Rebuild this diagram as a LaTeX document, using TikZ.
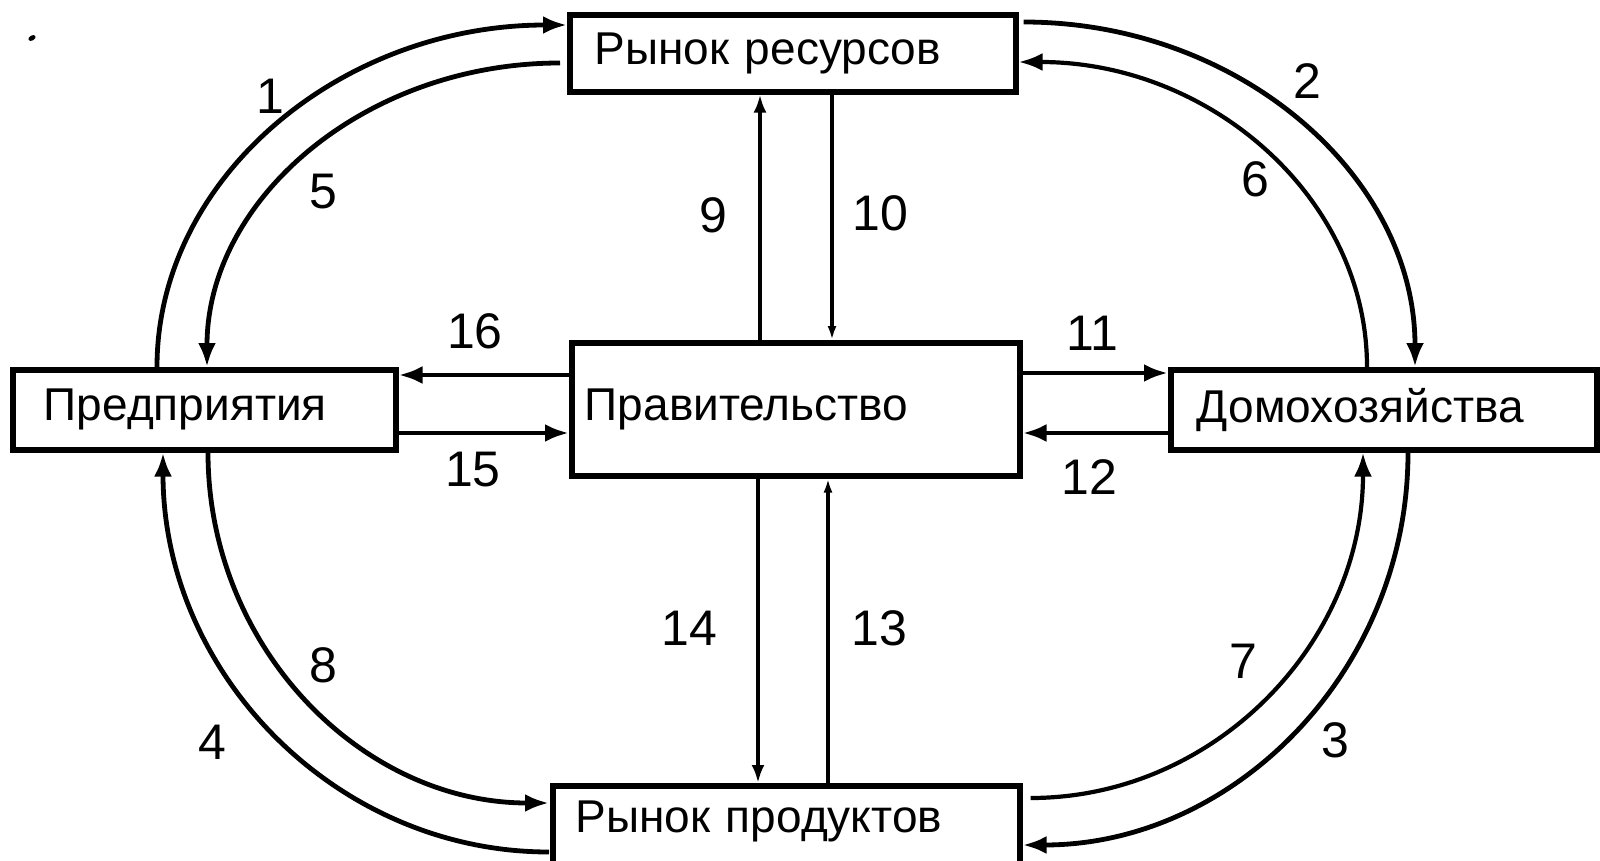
\documentclass[tikz,border=0pt]{standalone}
\usepackage{fontspec}
\setmainfont{Liberation Sans}
\usetikzlibrary{calc,arrows.meta}
\newcommand\qarc[4][]{\draw[flow,#1] (#2) .. controls ($(#2)!0.5523!(#4)$) and ($(#3)!0.5523!(#4)$) .. (#3);}
\begin{document}
\begin{tikzpicture}[x=0.5pt,y=-0.5pt,
  box/.style={draw,line width=2.8pt,anchor=north west,align=left,inner ysep=0pt,font=\fontsize{23}{27}\selectfont},
  num/.style={font=\fontsize{25}{30}\selectfont,inner sep=0pt},
  flow/.style={line width=2.4pt,-{Latex[length=12pt,width=9pt]}},
  thinflow/.style={line width=2pt,-{Latex[length=7pt,width=4.5pt]}}]
\useasboundingbox (0,0) rectangle (1600,861);
\clip (0,0) rectangle (1600,861);
% boxes
\node[box,minimum height=38.5pt,text width=198pt,inner xsep=12.5pt] (rr) at (567,12) {Рынок ресурсов};
\node[box,minimum height=40pt,text width=160.5pt,inner xsep=15.5pt] (pr) at (10,367) {Предприятия};
\node[box,minimum height=66.5pt,text width=211pt,inner xsep=6.5pt] (gov) at (569,340) {Правительство};
\node[box,minimum height=40pt,text width=187pt,inner xsep=13pt] (hh) at (1168,367) {Домохозяйства};
\node[box,minimum height=43.5pt,text height=16.5pt,text depth=13pt,text width=210.5pt,inner xsep=11.5pt] (pp) at (550,783) {Рынок продуктов};
% curve end points
\coordinate (a1) at ($(pr.north west)+(147,0)$);
\coordinate (b1) at ($(rr.north west)+(0,13)$);
\coordinate (c1) at (a1|-b1);
\coordinate (a5) at ($(rr.north west)+(-7,51)$);
\coordinate (b5) at ($(pr.north west)+(197,0)$);
\coordinate (c5) at (b5|-a5);
\coordinate (a2) at ($(rr.north east)+(5,10)$);
\coordinate (b2) at ($(hh.north west)+(247,0)$);
\coordinate (c2) at (b2|-a2);
\coordinate (a6) at ($(hh.north west)+(199,0)$);
\coordinate (b6) at ($(rr.north east)+(0,50)$);
\coordinate (c6) at (a6|-b6);
\coordinate (a3) at ($(hh.south west)+(240,0)$);
\coordinate (b3) at ($(pp.north east)+(0,62)$);
\coordinate (c3) at (a3|-b3);
\coordinate (a7) at ($(pp.north east)+(8,15)$);
\coordinate (b7) at ($(hh.south west)+(195,0)$);
\coordinate (c7) at (b7|-a7);
\coordinate (a4) at ($(pp.north west)+(-1,69)$);
\coordinate (b4) at ($(pr.south west)+(153,0)$);
\coordinate (c4) at (b4|-a4);
\coordinate (a8) at ($(pr.south west)+(198,0)$);
\coordinate (b8) at ($(pp.north west)+(-1,20)$);
\coordinate (c8) at (a8|-b8);
% curves
\qarc{a1}{b1}{c1}
\qarc{a5}{b5}{c5}
\qarc{a2}{b2}{c2}
\qarc[line width=2.1pt]{a6}{b6}{c6}
\qarc{a3}{b3}{c3}
\qarc[line width=2.1pt]{a7}{b7}{c7}
\qarc{a4}{b4}{c4}
\qarc{a8}{b8}{c8}
% straight connectors
\coordinate (s9) at ($(gov.north west)+(191,0)$);
\coordinate (s10) at ($(rr.south west)+(265,0)$);
\coordinate (s14) at ($(gov.south west)+(189,0)$);
\coordinate (s13) at ($(pp.north west)+(278,0)$);
\coordinate (s16) at ($(gov.north west)+(0,35)$);
\coordinate (s15) at ($(pr.north east)+(0,66)$);
\coordinate (s11) at ($(gov.north east)+(0,33)$);
\coordinate (s12) at ($(hh.north west)+(0,66)$);
\draw[flow,-{Latex[length=9pt,width=6.5pt]}] (s9) -- (s9|-rr.south);
\draw[thinflow] (s10) -- (s10|-gov.north);
\draw[flow,-{Latex[length=9pt,width=6.5pt]}] (s14) -- (s14|-pp.north);
\draw[thinflow] (s13) -- (s13|-gov.south);
\draw[flow] (s16) -- (s16-|pr.east);
\draw[flow] (s15) -- (s15-|gov.west);
\draw[flow] (s11) -- (s11-|hh.west);
\draw[flow] (s12) -- (s12-|gov.east);
% labels
\node[num] (l1) at (270,96) {1};
\node[num] (l5) at (323,192) {5};
\node[num] (l2) at (1307,81) {2};
\node[num] (l6) at (1255,179) {6};
\node[num] (l9) at (713,215) {9};
\node[num] (l10) at (880,213) {10};
\node[num] (l16) at (475,331) {16};
\node[num] (l15) at (473,470) {15};
\node[num] (l11) at (1092,333) {11};
\node[num] (l12) at (1089,477) {12};
\node[num] (l14) at (689,628) {14};
\node[num] (l13) at (879,628) {13};
\node[num] (l8) at (323,665) {8};
\node[num] (l4) at (212,742) {4};
\node[num] (l7) at (1243,661) {7};
\node[num] (l3) at (1335,740) {3};
% scan speck
\fill[rotate around={30:(32,38)}] (32,38) ellipse (4 and 2.5);
\end{tikzpicture}
\end{document}
